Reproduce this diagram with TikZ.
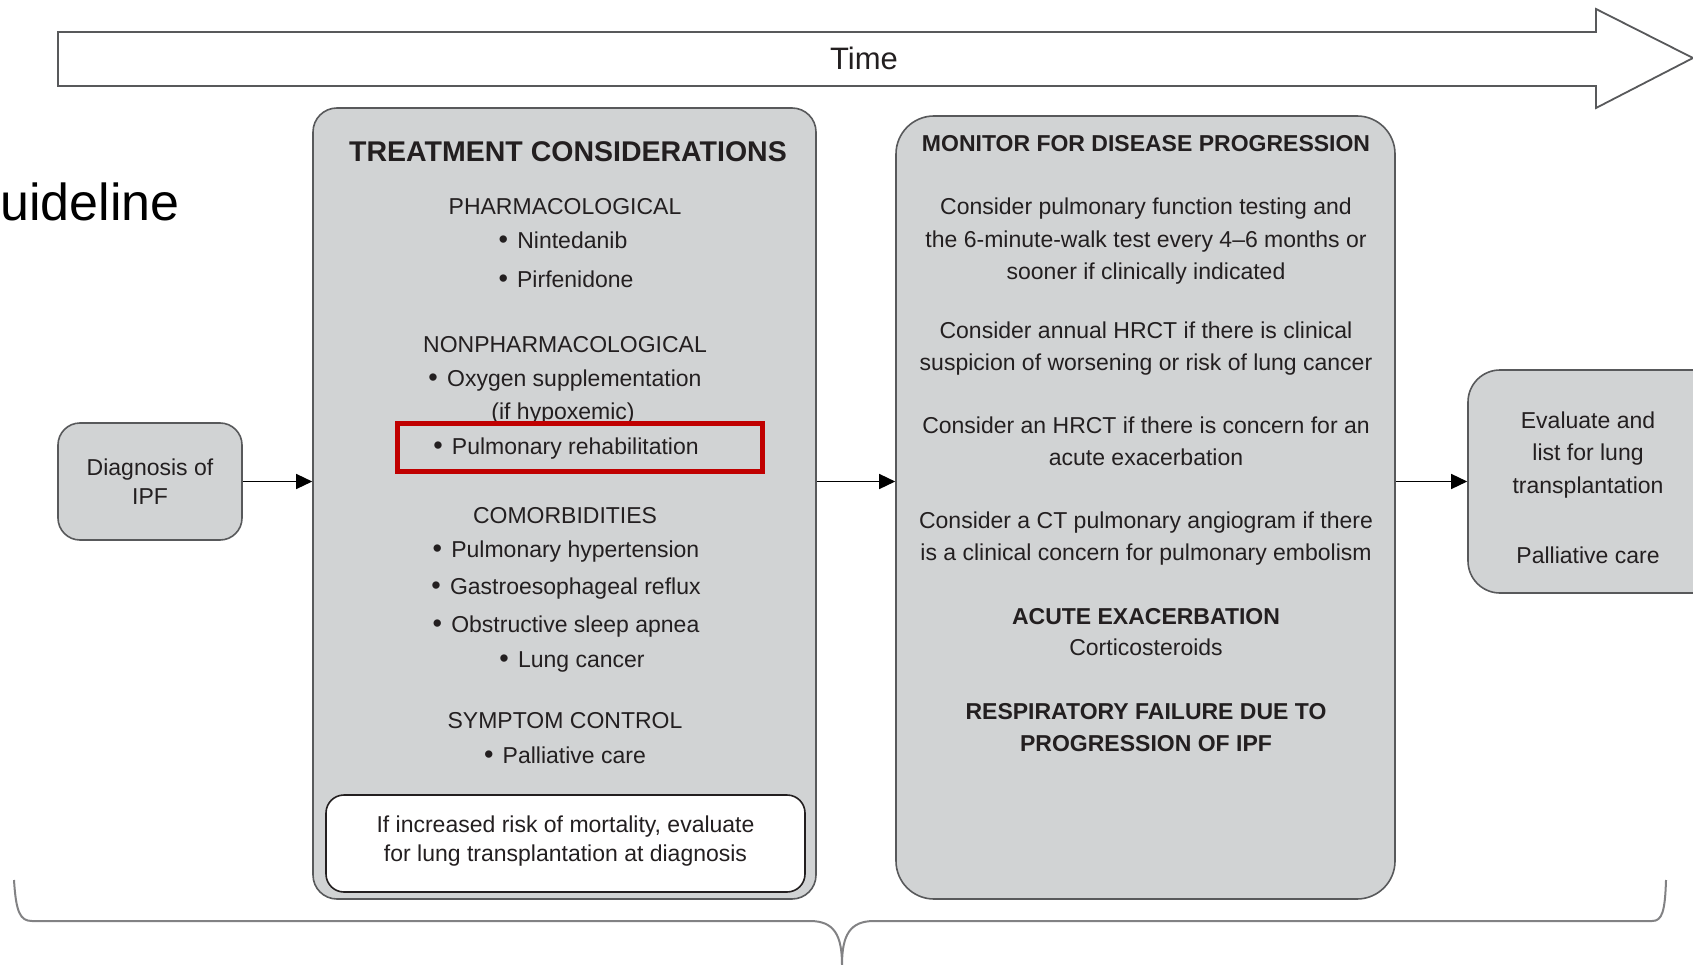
\documentclass[tikz,border=0pt]{standalone}
\usepackage{fontspec}
\setmainfont{Liberation Sans}
\usepackage{xcolor}
\usepackage{tikz}
\usetikzlibrary{arrows.meta,positioning}

\definecolor{boxfill}{HTML}{D1D3D4}
\definecolor{boxline}{HTML}{58595B}
\definecolor{ink}{HTML}{231F20}
\definecolor{redline}{HTML}{C00000}

\newcommand{\blt}{{\fontsize{27}{27}\selectfont •}\hspace{0.4em}}

\begin{document}
\begin{tikzpicture}[x=1pt,y=-1pt,
  stage/.style={draw=boxline, fill=boxfill, line width=1.6pt, inner sep=0pt},
  txt/.style={text=ink, font=\fontsize{23}{32.5}\selectfont, align=center, inner sep=0pt},
  head/.style={txt, font=\fontsize{23}{32}\selectfont\bfseries},
  arr/.style={-{Triangle[length=16pt,width=15pt]}, line width=1.4pt, black}]

\useasboundingbox (0,0) rectangle (1693,965);
\clip (0,0) rectangle (1693,965);

% time arrow
\draw[draw=boxline, line width=1.8pt, fill=white] (58,32) -- (1596,32) -- (1596,9) -- (1693,58)
   -- (1596,108) -- (1596,86) -- (58,86) -- cycle;
\node[txt, font=\fontsize{31}{31}\selectfont] (time) at (864,58) {Time};

\node[txt, anchor=base west, font=\fontsize{52}{52}\selectfont, text=black] (guide) at (0,221) {uideline};

% boxes
\node[stage, rounded corners=22pt, minimum width=184pt, minimum height=117pt] (diag) at (150,481.5) {};
\node[txt, font=\fontsize{23}{29}\selectfont] at (diag) {Diagnosis of\\IPF};

\node[stage, rounded corners=24pt, minimum width=503pt, minimum height=791pt] (treat) at (564.5,503.5) {};
\node[stage, rounded corners=38pt, minimum width=499pt, minimum height=783pt] (monitor) at (1145.5,507.5) {};
\node[stage, rounded corners=32pt, minimum width=260pt, minimum height=223pt] (eval) at (1598,481.5) {};

% treatment considerations
\node[head, font=\fontsize{28.5}{28.5}\selectfont\bfseries] (tctitle) at (568,152) {TREATMENT CONSIDERATIONS};
\node[txt] (pharm) at (565,207) {PHARMACOLOGICAL};
\node[txt] (nint) at (563,240) {\blt Nintedanib};
\node[txt] (pirf) at (566,279) {\blt Pirfenidone};
\node[txt] (nonph) at (565,345) {NONPHARMACOLOGICAL};
\node[txt] (oxy) at (565,381) {\blt Oxygen supplementation};
\node[txt] (hypo) at (563,414) {(if hypoxemic)};
\node[txt] (rehab) at (566,449) {\blt Pulmonary rehabilitation};
\draw[draw=redline, line width=5pt] (397,423) rectangle (762,471);
\node[txt] (comorb) at (565,516) {COMORBIDITIES};
\node[txt] (phtn) at (566,552) {\blt Pulmonary hypertension};
\node[txt] (gerd) at (566,589) {\blt Gastroesophageal reflux};
\node[txt] (osa) at (566,627) {\blt Obstructive sleep apnea};
\node[txt] (lungca) at (572,662) {\blt Lung cancer};
\node[txt] (sympt) at (565,721) {SYMPTOM CONTROL};
\node[txt] (palli) at (565,755) {\blt Palliative care};

\node[draw=ink, fill=white, line width=1.6pt, rounded corners=18pt, minimum width=479pt, minimum height=97pt] (risk) at (565.5,843.5) {};
\node[txt, font=\fontsize{23}{29}\selectfont] at ([yshift=2pt]risk.center) {If increased risk of mortality, evaluate\\for lung transplantation at diagnosis};

% monitor for disease progression
\node[head] (mtitle) at (1146,144) {MONITOR FOR DISEASE PROGRESSION};
\node[txt] (pft) at (1146,241.5) {Consider pulmonary function testing and\\the 6-minute-walk test every 4–6 months or\\sooner if clinically indicated};
\node[txt] (hrct) at (1146,348.5) {Consider annual HRCT if there is clinical\\suspicion of worsening or risk of lung cancer};
\node[txt] (hrct2) at (1146,441.5) {Consider an HRCT if there is concern for an\\acute exacerbation};
\node[txt] (ctpa) at (1146,538.5) {Consider a CT pulmonary angiogram if there\\is a clinical concern for pulmonary embolism};
\node[head] (acute) at (1146,617) {ACUTE EXACERBATION};
\node[txt] (cortico) at (1146,647) {Corticosteroids};
\node[head] (respfail) at (1146,728) {RESPIRATORY FAILURE DUE TO\\PROGRESSION OF IPF};

% evaluate
\node[txt] (list) at (1588,455) {Evaluate and\\list for lung\\transplantation};
\node[txt] (palli2) at (1588,555) {Palliative care};

% connectors
\draw[arr] (diag) -- (diag -| treat.west);
\draw[arr] (treat.east |- eval) -- (monitor.west |- eval);
\draw[arr] (monitor.east |- eval) -- (eval);

% brace
\draw[draw=boxline!75, line width=2pt] (14,880) .. controls (16,912) and (20,921) .. (32,921)
   -- (810,921) .. controls (834,921) and (842,935) .. (842,965)
   .. controls (842,935) and (850,921) .. (874,921)
   -- (1652,921) .. controls (1662,921) and (1665,912) .. (1666,880);

\end{tikzpicture}
\end{document}
